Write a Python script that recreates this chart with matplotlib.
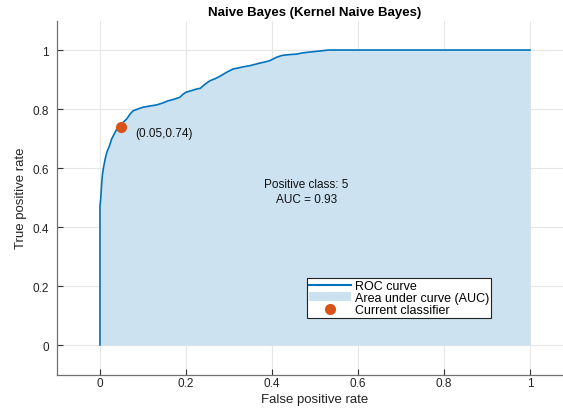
import matplotlib.pyplot as plt
from matplotlib.lines import Line2D
from matplotlib.patches import Patch

plt.rcParams['font.family'] = ['Liberation Sans', 'DejaVu Sans']

# ROC curve points (false positive rate, true positive rate)
fpr = [0.0, 0.0, 0.002, 0.004, 0.006, 0.008, 0.012, 0.016, 0.022, 0.027, 0.033,
       0.039, 0.045, 0.050, 0.056, 0.062, 0.070, 0.077, 0.088, 0.100, 0.115,
       0.132, 0.145, 0.159, 0.172, 0.186, 0.193, 0.200, 0.212, 0.225, 0.233,
       0.245, 0.256, 0.268, 0.279, 0.295, 0.310, 0.318, 0.333, 0.349, 0.370,
       0.388, 0.395, 0.410, 0.422, 0.430, 0.445, 0.457, 0.470, 0.481, 0.500,
       0.519, 0.531, 0.558, 0.600, 0.700, 0.800, 0.900, 1.0]
tpr = [0.0, 0.47, 0.50, 0.55, 0.58, 0.60, 0.63, 0.654, 0.675, 0.698, 0.715,
       0.732, 0.740, 0.749, 0.758, 0.766, 0.783, 0.794, 0.800, 0.806, 0.810,
       0.814, 0.820, 0.828, 0.833, 0.840, 0.850, 0.857, 0.862, 0.868, 0.870,
       0.885, 0.896, 0.903, 0.911, 0.925, 0.936, 0.938, 0.943, 0.947, 0.955,
       0.961, 0.964, 0.975, 0.981, 0.983, 0.985, 0.986, 0.990, 0.992, 0.995,
       0.998, 1.0, 1.0, 1.0, 1.0, 1.0, 1.0, 1.0]

op_fpr, op_tpr = 0.05, 0.74
positive_class = 5
auc = 0.93
xticks = [0, 0.2, 0.4, 0.6, 0.8, 1]
yticks = [0, 0.2, 0.4, 0.6, 0.8, 1]

blue = '#0072BD'
fill_blue = '#CCE2F0'
orange = '#D95319'
axis_gray = '#707070'

fig = plt.figure(figsize=(5.63, 4.10), dpi=100)
ax = fig.add_axes([0.1012, 0.0841, 0.9165, 0.8634])

ax.fill_between(fpr, tpr, 0, color=fill_blue, linewidth=0, zorder=1)
ax.plot(fpr, tpr, color=blue, linewidth=1.2, zorder=3)
ax.plot(op_fpr, op_tpr, 'o', color=orange, markersize=7, zorder=4)
ax.text(op_fpr + 0.031, op_tpr - 0.02, '(%.2f,%.2f)' % (op_fpr, op_tpr),
        fontsize=8.5, ha='left', va='center', color='#111111')
ax.text(0.48, 0.52, 'Positive class: %d\nAUC = %.2f' % (positive_class, auc),
        fontsize=8.5, ha='center', va='center', linespacing=1.3, color='#111111')

ax.set_xlim(-0.1, 1.1)
ax.set_ylim(-0.1, 1.1)
ax.set_xticks(xticks)
ax.set_yticks(yticks)
ax.set_xticklabels(['0', '0.2', '0.4', '0.6', '0.8', '1'])
ax.set_yticklabels(['0', '0.2', '0.4', '0.6', '0.8', '1'])
ax.grid(True, color='#e6e6e6', linewidth=0.8, zorder=0)
ax.set_axisbelow(True)
for side in ['top', 'right']:
    ax.spines[side].set_visible(False)
for side in ['left', 'bottom']:
    ax.spines[side].set_color(axis_gray)
    ax.spines[side].set_linewidth(0.9)
ax.tick_params(direction='in', length=4, width=0.8, color='#333333',
               labelsize=8.5, labelcolor='#222222')
ax.tick_params(axis='x', pad=2)
ax.tick_params(axis='y', pad=6)

ax.set_xlabel('False positive rate', fontsize=9.5, color='#222222', labelpad=3)
ax.set_ylabel('True positive rate', fontsize=9.5, color='#222222', labelpad=4)
ax.set_title('Naive Bayes (Kernel Naive Bayes)', fontsize=9.5, fontweight='bold', pad=4)

handles = [Line2D([], [], color=blue, linewidth=1.5),
           Patch(facecolor=fill_blue, edgecolor='none'),
           Line2D([], [], marker='o', linestyle='none', color=orange, markersize=7)]
labels = ['ROC curve', 'Area under curve (AUC)', 'Current classifier']
leg = ax.legend(handles, labels, loc='lower right', bbox_to_anchor=(0.841, 0.16),
                fontsize=9, fancybox=False, framealpha=1, edgecolor='#222222',
                borderpad=0.15, labelspacing=0.0, handlelength=3.4,
                handletextpad=0.3, borderaxespad=0)
leg.get_frame().set_linewidth(0.8)

fig.savefig('out.png', dpi=100)
